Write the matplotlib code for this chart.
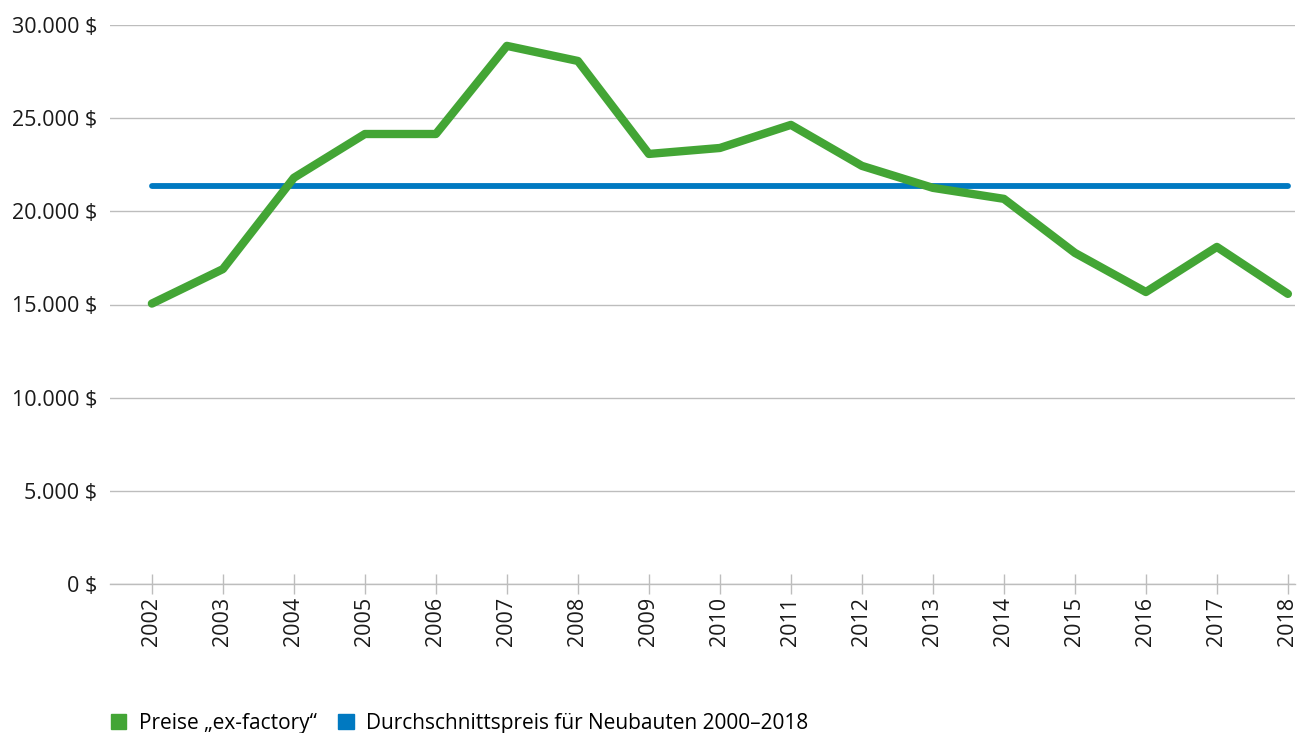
import matplotlib.pyplot as plt
from matplotlib.patches import Patch
from matplotlib.ticker import FuncFormatter

years = list(range(2002, 2019))
preise = [15050, 16900, 21800, 24150, 24150, 28880, 28070, 23080, 23400,
          24640, 22440, 21260, 20670, 17770, 15670, 18090, 15570]
durchschnitt = 21350

gruen = '#43a535'
blau = '#0079c1'
grau = '#bdbdbd'

plt.rcParams['font.family'] = ['Open Sans', 'DejaVu Sans']

fig = plt.figure(figsize=(13.11, 7.33), dpi=100)
ax = fig.add_axes([110 / 1311, 1 - 584 / 733, 1185 / 1311, 559 / 733])

ax.plot(years, [durchschnitt] * len(years), color=blau, lw=4.2,
        solid_capstyle='round', zorder=3)
ax.plot(years, preise, color=gruen, lw=6, solid_capstyle='round',
        solid_joinstyle='round', zorder=4)

ax.set_ylim(0, 30000)
ax.set_xlim(2001.41, 2018.1)
ax.set_yticks(range(0, 30001, 5000))
ax.yaxis.set_major_formatter(FuncFormatter(lambda v, p: f'{int(v):,} $'.replace(',', '.')))
ax.set_xticks(years)
ax.set_xticklabels([str(y) for y in years], rotation=90)

ax.grid(axis='y', color=grau, lw=1)
ax.set_axisbelow(True)
for s in ['top', 'right', 'left']:
    ax.spines[s].set_visible(False)
ax.spines['bottom'].set_color(grau)
ax.spines['bottom'].set_linewidth(1)
ax.tick_params(axis='y', length=0, pad=9, labelsize=15.5, labelcolor='#1a1a1a')
ax.tick_params(axis='x', direction='inout', length=15, width=1, color=grau, pad=2,
               labelsize=15.5, labelcolor='#1a1a1a')

handles = [Patch(color=gruen, label='Preise „ex-factory“'),
           Patch(color=blau, label='Durchschnittspreis für Neubauten 2000–2018')]
fig.legend(handles=handles, loc='lower left', bbox_to_anchor=(98 / 1311, -0.018),
           ncol=2, frameon=False, fontsize=15, handlelength=0.75, handleheight=0.75,
           handletextpad=0.6, columnspacing=1.05, borderpad=0.1)

fig.savefig('out.png', dpi=100)
